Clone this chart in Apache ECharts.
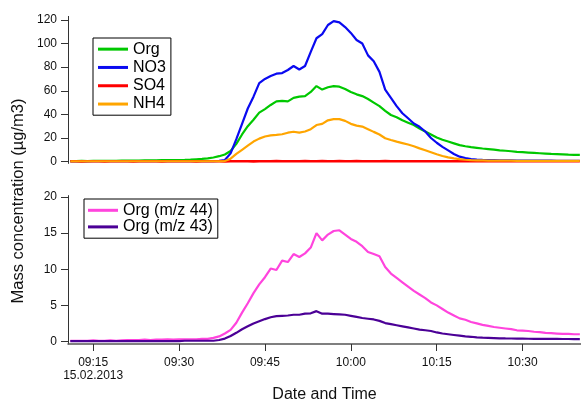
<!DOCTYPE html>
<html>
<head>
<meta charset="utf-8">
<script src="https://cdn.jsdelivr.net/npm/echarts@6/dist/echarts.min.js"></script>
<style>html,body{margin:0;padding:0;background:#fff;}#c{width:581px;height:401px;}</style>
</head>
<body>
<div id="c"></div>
<script>
// Time stamps (15.02.2013), one per minute
var times = ["09:11","09:12","09:13","09:14","09:15","09:16","09:17","09:18","09:19","09:20",
"09:21","09:22","09:23","09:24","09:25","09:26","09:27","09:28","09:29","09:30",
"09:31","09:32","09:33","09:34","09:35","09:36","09:37","09:38","09:39","09:40",
"09:41","09:42","09:43","09:44","09:45","09:46","09:47","09:48","09:49","09:50",
"09:51","09:52","09:53","09:54","09:55","09:56","09:57","09:58","09:59","10:00",
"10:01","10:02","10:03","10:04","10:05","10:06","10:07","10:08","10:09","10:10",
"10:11","10:12","10:13","10:14","10:15","10:16","10:17","10:18","10:19","10:20",
"10:21","10:22","10:23","10:24","10:25","10:26","10:27","10:28","10:29","10:30",
"10:31","10:32","10:33","10:34","10:35","10:36","10:37","10:38","10:39","10:40"];

// Top panel (µg/m3)
var org = [0.5,0.5,0.6,0.5,0.6,0.6,0.7,0.7,0.7,0.8,
0.8,0.9,0.9,1.0,1.0,1.1,1.2,1.2,1.3,1.4,
1.5,1.7,2.0,2.3,2.7,3.5,4.6,6,9,15,
23,30,35.5,41.5,44.5,48,51,51.5,51,54,
55,55.5,59,64,61,63,64,63.5,61.5,59,
57,55.5,53,50,47,43,39.5,37.5,35,33,
31,28,25.5,23,20.5,18.5,17,15.5,14,13,
12.3,11.7,11.1,10.6,10.1,9.6,9.2,8.8,8.3,8.0,
7.7,7.4,7.1,6.8,6.5,6.3,6.1,5.9,5.8,5.7];
var no3 = [0.5,0.5,0.4,0.5,0.5,0.4,0.5,0.5,0.5,0.4,
0.5,0.5,0.5,0.5,0.4,0.5,0.5,0.5,0.4,0.5,
0.5,0.5,0.5,0.5,0.5,0.5,0.7,1.4,7,19,
32,45,55,66.5,70,72.5,74.5,75,77.6,81,
78,81,93,104.5,108,115.7,119,118,114,109,
103,100,90,85,76,61,54,47,41,36.7,
32.3,29.5,25.5,20,16,12.5,9.5,6.5,4.2,3,
2.2,1.8,1.5,1.3,1.2,1.1,1.0,1.0,0.9,0.9,
0.9,0.8,0.8,0.8,0.8,0.7,0.7,0.7,0.7,0.7];
var so4 = [0.3,0.3,0.2,0.3,0.3,0.3,0.2,0.3,0.3,0.3,
0.3,0.2,0.3,0.3,0.3,0.3,0.2,0.3,0.3,0.3,
0.3,0.3,0.2,0.3,0.3,0.3,0.3,0.2,0.3,0.3,
0.3,0.3,0.2,0.3,0.3,0.3,0.4,0.3,0.3,0.3,
0.3,0.4,0.3,0.3,0.4,0.3,0.3,0.4,0.3,0.3,
0.4,0.3,0.3,0.3,0.3,0.4,0.3,0.3,0.3,0.3,
0.3,0.3,0.3,0.3,0.3,0.3,0.3,0.3,0.3,0.3,
0.3,0.3,0.3,0.3,0.3,0.3,0.3,0.3,0.3,0.3,
0.3,0.3,0.3,0.3,0.3,0.3,0.3,0.3,0.3,0.3];
var nh4 = [0.3,0.3,0.3,0.3,0.3,0.3,0.3,0.3,0.3,0.3,
0.3,0.3,0.3,0.3,0.3,0.3,0.3,0.3,0.3,0.3,
0.3,0.3,0.3,0.3,0.3,0.3,0.3,0.5,2.5,6.5,
10,13.5,17,19.5,21.3,22.2,22.6,23.2,24.5,25.3,
24.6,25.5,27.5,31,32,35,36,36,34.5,32,
30.5,29.7,27.5,25.2,23,19.8,18.3,16.9,15.7,14.5,
13,11.2,9.7,8,6.3,4.8,3.6,2.7,2.1,1.6,
1.3,1.1,1.0,0.9,0.9,0.8,0.8,0.8,0.7,0.7,
0.7,0.7,0.7,0.7,0.7,0.7,0.7,0.7,0.7,0.7];

// Bottom panel (µg/m3)
var org44 = [0.1,0.1,0.1,0.1,0.15,0.1,0.1,0.15,0.1,0.15,
0.2,0.2,0.2,0.25,0.2,0.25,0.25,0.3,0.25,0.3,
0.3,0.3,0.3,0.35,0.35,0.5,0.7,1.1,1.6,2.6,
4.0,5.3,6.7,7.9,8.9,10.1,9.9,11.2,11.0,12.1,
11.7,12.2,13.0,15.0,14.0,14.8,15.3,15.4,14.8,14.2,
13.8,13.2,12.4,12.1,11.8,10.3,9.4,8.8,8.2,7.6,
7.0,6.5,6.0,5.4,5.0,4.5,4.0,3.6,3.2,3.0,
2.7,2.5,2.3,2.15,2.0,1.9,1.8,1.7,1.55,1.5,
1.45,1.35,1.3,1.2,1.15,1.1,1.05,1.05,1.0,1.0];
var org43 = [0.05,0.05,0.05,0.05,0.05,0.05,0.05,0.05,0.05,0.05,
0.05,0.05,0.05,0.05,0.05,0.05,0.05,0.05,0.05,0.05,
0.1,0.1,0.1,0.1,0.1,0.1,0.2,0.4,0.75,1.2,
1.7,2.1,2.5,2.8,3.1,3.35,3.5,3.55,3.6,3.7,
3.7,3.85,3.9,4.2,3.85,3.85,3.8,3.75,3.7,3.55,
3.4,3.25,3.15,3.05,2.85,2.55,2.4,2.25,2.1,1.95,
1.8,1.65,1.55,1.45,1.25,1.1,1.0,0.9,0.8,0.7,
0.65,0.58,0.53,0.5,0.47,0.44,0.42,0.41,0.40,0.39,
0.38,0.37,0.36,0.36,0.35,0.35,0.34,0.34,0.33,0.33];

var xTicks = ["09:15","09:30","09:45","10:00","10:15","10:30"];
var topTicks = [0,20,40,60,80,100,120];
var botTicks = [0,5,10,15,20];
var dateLabel = "15.02.2013";

function toMin(s){var p=s.split(":");return (+p[0]-9)*60+(+p[1]);}
function fromMin(v){var h=9+Math.floor(v/60),m=Math.round(v-Math.floor(v/60)*60);return (h<10?"0":"")+h+":"+(m<10?"0":"")+m;}
function pairs(arr){return arr.map(function(v,i){return [toMin(times[i]),v];});}
var xt = xTicks.map(toMin);

var FONT = "Liberation Sans, Arial, sans-serif";
var XMIN = 10.6, XMAX = 100.2;
var axisCol = '#333';

function line(name, data, color, x, y, w){
  return {name:name,type:'line',xAxisIndex:x,yAxisIndex:y,data:pairs(data),
    symbol:'none',smooth:false,lineStyle:{color:color,width:w||2.2},itemStyle:{color:color},
    animation:false,silent:true};
}

var chart = echarts.init(document.getElementById('c'),null,{renderer:'canvas'});
chart.setOption({
  animation:false,
  backgroundColor:'#fff',
  textStyle:{fontFamily:FONT},
  grid:[
    {left:68,right:0,top:16.4,height:147,containLabel:false,outerBoundsMode:'none'},
    {left:68,right:0,top:195.6,height:148.4,containLabel:false,outerBoundsMode:'none'}
  ],
  xAxis:[
    {type:'value',gridIndex:0,min:XMIN,max:XMAX,show:false,splitLine:{show:false}},
    {type:'value',gridIndex:1,min:XMIN,max:XMAX,
      name:'Date and Time',nameLocation:'middle',nameGap:43,
      nameTextStyle:{fontSize:16,color:'#111',fontFamily:FONT},
      axisLine:{show:true,onZero:false,lineStyle:{color:'#555',width:1.5}},
      axisTick:{show:true,length:7,inside:false,customValues:xt,lineStyle:{color:axisCol,width:1}},
      axisLabel:{show:true,customValues:xt,margin:12,fontSize:12,lineHeight:13,color:'#111',fontFamily:FONT,
        formatter:function(v){var s=fromMin(v);return s===xTicks[0]?s+"\n"+dateLabel:s;}},
      splitLine:{show:false}}
  ],
  yAxis:[
    {type:'value',gridIndex:0,min:-1.5,max:123,
      axisLine:{show:true,lineStyle:{color:axisCol,width:1}},
      axisTick:{show:true,length:7,customValues:topTicks,lineStyle:{color:axisCol}},
      axisLabel:{customValues:topTicks,margin:11,fontSize:12,color:'#111',fontFamily:FONT},
      splitLine:{show:false}},
    {type:'value',gridIndex:1,min:-0.35,max:20.2,
      axisLine:{show:true,lineStyle:{color:axisCol,width:1}},
      axisTick:{show:true,length:7,customValues:botTicks,lineStyle:{color:axisCol}},
      axisLabel:{customValues:botTicks,margin:11,fontSize:12,color:'#111',fontFamily:FONT},
      splitLine:{show:false}}
  ],
  legend:[
    {data:['Org','NO3','SO4','NH4'],orient:'vertical',left:93,top:38,
      borderColor:'#000',borderWidth:1,padding:[2,5,2,5],itemGap:0,
      itemWidth:30,itemHeight:3,icon:'rect',
      textStyle:{fontSize:16,lineHeight:18.3,color:'#000',fontFamily:FONT},selectedMode:false},
    {data:['Org (m/z 44)','Org (m/z 43)'],orient:'vertical',left:84,top:199,
      borderColor:'#000',borderWidth:1,padding:[3,5,3,4],itemGap:0,
      itemWidth:30,itemHeight:3,icon:'rect',
      textStyle:{fontSize:16,lineHeight:16.6,color:'#000',fontFamily:FONT},selectedMode:false}
  ],
  graphic:[
    {type:'text',x:18,y:201,rotation:Math.PI/2,
      style:{text:'Mass concentration (µg/m3)',fontSize:16.5,fontFamily:FONT,fill:'#111',
        textAlign:'center',textVerticalAlign:'middle'}}
  ],
  series:[
    line('Org',org,'#00c800',0,0),
    line('NO3',no3,'#0a0af0',0,0),
    line('SO4',so4,'#ff0000',0,0,2.6),
    line('NH4',nh4,'#ffa500',0,0),
    line('Org (m/z 44)',org44,'#ff44dd',1,1),
    line('Org (m/z 43)',org43,'#4b0096',1,1)
  ]
});
</script>
</body>
</html>
